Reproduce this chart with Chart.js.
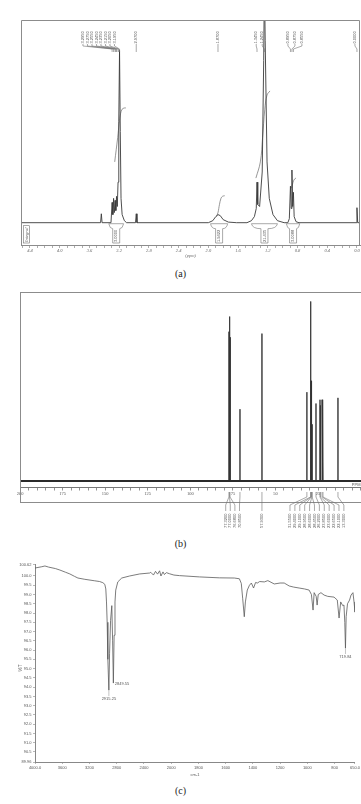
<!DOCTYPE html>
<html>
<head>
<meta charset="utf-8">
<script src="https://cdn.jsdelivr.net/npm/chart.js@4.4.0/dist/chart.umd.min.js"></script>
<style>
html, body { margin: 0; padding: 0; background: #fff; }
body { width: 361px; height: 804px; position: relative; overflow: hidden; }
canvas { position: absolute; left: 0; }
.cap { position: absolute; left: 0; width: 361px; text-align: center; font-family: "Liberation Serif", serif; font-size: 10px; color: #222; line-height: 12px; }
</style>
</head>
<body>
<canvas id="nmrH" width="361" height="262" style="top:0px"></canvas>
<div class="cap" style="top:268px">(a)</div>
<canvas id="nmrC" width="361" height="250" style="top:285px"></canvas>
<div class="cap" style="top:538px">(b)</div>
<canvas id="ir" width="361" height="230" style="top:555px"></canvas>
<div class="cap" style="top:785px">(c)</div>
<script>
// ---- (a) 1H NMR spectrum, ppm / relative intensity
var hPpm = [4.52, 3.45, 3.44, 3.43,
    3.31, 3.295, 3.285, 3.275, 3.265, 3.255, 3.245, 3.235, 3.225, 3.215, 3.205, 3.195, 3.185, 3.175, 3.16, 3.13, 3.10,
    2.98, 2.97, 2.96,
    2.00, 1.94, 1.90, 1.87, 1.84, 1.80, 1.73, 1.62,
    1.48, 1.42, 1.38, 1.355, 1.345, 1.335, 1.31, 1.275, 1.255, 1.245, 1.235, 1.21, 1.18, 1.13, 1.07, 0.98,
    0.93, 0.91, 0.895, 0.885, 0.875, 0.865, 0.855, 0.845, 0.82, 0.78,
    0.01, 0.0, -0.01, -0.041];
var hInt = [0, 0, 0.044, 0,
    0, 0.10, 0.04, 0.12, 0.05, 0.11, 0.06, 0.13, 0.08, 0.20, 0.50, 0.85, 0.45, 0.12, 0.04, 0.01, 0,
    0, 0.044, 0,
    0, 0.01, 0.03, 0.04, 0.035, 0.015, 0.003, 0,
    0, 0.01, 0.03, 0.07, 0.20, 0.09, 0.08, 0.25, 0.80, 1.20, 0.90, 0.30, 0.12, 0.04, 0.01, 0,
    0, 0.02, 0.18, 0.07, 0.26, 0.08, 0.15, 0.03, 0.005, 0,
    0, 0.074, 0, 0];

// integral traces
var hIntegPpm = [
    [3.26, 3.22, 3.20, 3.18, 3.16, 3.13, 3.11],
    [1.89, 1.87, 1.85, 1.83, 1.81, 1.78],
    [1.36, 1.30, 1.27, 1.24, 1.21, 1.17],
    [0.88, 0.86, 0.84, 0.82]
];
var hIntegVal = [
    [0.30, 0.42, 0.49, 0.54, 0.56, 0.566, 0.566],
    [0.03, 0.05, 0.09, 0.12, 0.13, 0.133],
    [0.22, 0.30, 0.42, 0.56, 0.63, 0.65],
    [0.17, 0.20, 0.215, 0.22]
];
var hIntegRanges = [[3.34, 3.14], [1.97, 1.74], [1.42, 1.07], [0.95, 0.77]];
var hIntegText = ["3.0000", "1.9422", "21.435", "3.0088"];

// labelled peaks, grouped as on the plot
var hPeakGroups = [
    [3.295, 3.275, 3.255, 3.245, 3.235, 3.215, 3.205, 3.195],
    [2.97],
    [1.87],
    [1.345, 1.245],
    [0.895, 0.875, 0.855],
    [0.0]
];
var hMajorTicks = [4.4, 4.0, 3.6, 3.2, 2.8, 2.4, 2.0, 1.6, 1.2, 0.8, 0.4, 0.0];

// ---- (b) 13C NMR peaks
var cPpm = [77.32, 77.00, 76.68, 70.85, 57.93, 31.55, 29.40, 29.10, 28.95, 28.60, 28.45, 26.20, 23.85, 23.60, 22.65, 22.10, 13.30];
var cInt = [0.79, 0.87, 0.76, 0.38, 0.78, 0.47, 0.95, 0.53, 0.40, 0.36, 0.30, 0.41, 0.43, 0.40, 0.43, 0.42, 0.44];
var cPeakGroups = [[0, 1, 2, 3], [4], [5, 6, 7, 8, 9, 10, 11, 12, 13, 14, 15, 16]];
var cMajorTicks = [200, 175, 150, 125, 100, 75, 50, 25];

// ---- (c) IR spectrum, wavenumber (cm-1) / %T
var irWn = [4000, 3900, 3854, 3800, 3700, 3634, 3550, 3488, 3420, 3370, 3268, 3122, 3050, 3004, 2975,
    2960, 2950, 2940, 2930, 2915, 2905, 2890, 2872, 2860, 2849, 2838, 2825, 2814, 2784, 2726, 2610, 2462,
    2316, 2300, 2260, 2230, 2200, 2170, 2150, 2120, 2100, 2070, 2024, 1980, 1939, 1792, 1646, 1536, 1499,
    1485, 1475, 1463, 1455, 1441, 1425, 1411, 1395, 1380, 1367, 1350, 1316, 1290, 1243, 1200, 1170, 1133,
    1100, 1060, 1020, 987, 970, 958, 950, 935, 928, 920, 900, 877, 850, 804, 780, 767, 755, 740, 731,
    725, 720, 715, 705, 690, 679, 665, 657, 650];
var irT = [100.43, 100.50, 100.54, 100.48, 100.40, 100.32, 100.20, 100.11, 99.98, 99.89, 99.82, 99.74, 99.70, 99.64, 99.55,
    99.30, 98.60, 97.50, 95.50, 93.84, 95.80, 97.60, 98.40, 96.50, 94.22, 96.80, 98.60, 99.24, 99.68, 99.89, 100.00, 100.11,
    100.16, 100.20, 100.05, 100.25, 100.10, 100.28, 100.00, 100.22, 100.08, 100.18, 100.12, 100.05, 100.02, 99.95, 99.90, 99.89, 99.85,
    99.60, 98.80, 97.80, 98.60, 99.24, 99.50, 99.62, 99.35, 99.65, 99.62, 99.70, 99.68, 99.75, 99.57, 99.62, 99.62, 99.46,
    99.40, 99.35, 99.30, 99.24, 99.00, 98.16, 99.10, 98.90, 98.43, 99.00, 99.10, 98.97, 98.90, 98.86, 98.70, 97.73, 98.60, 98.40, 98.43,
    97.50, 96.11, 97.80, 98.50, 98.70, 98.97, 99.10, 98.60, 98.05];
var irPeakWn = [2915, 2849, 720];
var irPeakText = ["2915.25", "2849.55", "719.84"];
var irTickWn = [4000, 3600, 3200, 2800, 2400, 2000, 1800, 1600, 1400, 1200, 1000, 800, 650];
var irTickText = ["4000.0", "3600", "3200", "2800", "2400", "2000", "1800", "1600", "1400", "1200", "1000", "800", "650.0"];
var irYTicks = [100.62, 100.0, 99.5, 99.0, 98.5, 98.0, 97.5, 97.0, 96.5, 96.0, 95.5, 95.0, 94.5, 94.0, 93.5, 93.0, 92.5, 92.0, 91.5, 91.0, 90.5, 89.96];
var irYText = ["100.62", "100.0", "99.5", "99.0", "98.5", "98.0", "97.5", "97.0", "96.5", "96.0", "95.5", "95.0", "94.5", "94.0", "93.5", "93.0", "92.5", "92.0", "91.5", "91.0", "90.5", "89.96"];

Chart.defaults.animation = false;
Chart.defaults.devicePixelRatio = 1;

// instrument axis changes scale at 2000 cm-1
function irPos(w) {
    return w >= 2000 ? (4000 - w) / 2 : 1000 + (2000 - w);
}

function vText(ctx, text, x, y, size, align) {
    ctx.save();
    ctx.translate(x, y);
    ctx.rotate(-Math.PI / 2);
    ctx.font = size + 'px "Liberation Sans", sans-serif';
    ctx.textAlign = align || "left";
    ctx.textBaseline = "middle";
    ctx.fillText(text, 0, 0);
    ctx.restore();
}

function xyPoints(xs, ys) {
    return xs.map(function(x, i) { return { x: x, y: ys[i] }; });
}

// ---------- (a)
var hLabelLayout = [[4.5, -17.5], [0, 0], [0, 0], [6, -1.5], [7, 3], [0, -2]];

var hAnnot = {
    id: "hAnnot",
    afterDatasetsDraw: function(chart) {
        var ctx = chart.ctx, xs = chart.scales.x, ys = chart.scales.y, a = chart.chartArea;
        ctx.save();
        // frame
        ctx.strokeStyle = "#8c8c8c";
        ctx.lineWidth = 1;
        ctx.beginPath();
        ctx.moveTo(a.left + 0.5, a.bottom);
        ctx.lineTo(a.left + 0.5, a.top + 0.5);
        ctx.lineTo(a.right - 0.5, a.top + 0.5);
        ctx.lineTo(a.right - 0.5, a.bottom);
        ctx.stroke();

        // peak labels on top
        ctx.strokeStyle = "#707070";
        ctx.fillStyle = "#555";
        ctx.lineWidth = 0.6;
        hPeakGroups.forEach(function(g, gi) {
            var px = g.map(function(p) { return xs.getPixelForValue(p); });
            var mid = px.reduce(function(s, v) { return s + v; }, 0) / px.length;
            var step = hLabelLayout[gi][0], shift = hLabelLayout[gi][1];
            g.forEach(function(p, i) {
                var lx = mid + shift + (i - (g.length - 1) / 2) * step;
                ctx.beginPath();
                ctx.moveTo(lx, a.top + 24);
                ctx.lineTo(lx, a.top + 26);
                ctx.lineTo(px[i], a.top + 29);
                ctx.lineTo(px[i], a.top + 32);
                ctx.stroke();
                vText(ctx, p.toFixed(4), lx, a.top + 23.5, 4);
            });
        });

        // integration brackets
        var y0 = ys.getPixelForValue(0);
        hIntegRanges.forEach(function(r, i) {
            var x1 = xs.getPixelForValue(r[0]), x2 = xs.getPixelForValue(r[1]);
            var xc = (x1 + x2) / 2, bw = 3.5;
            ctx.beginPath();
            ctx.moveTo(x1, y0 + 1);
            ctx.lineTo(x2, y0 + 1);
            ctx.moveTo(x1, y0 + 1);
            ctx.quadraticCurveTo(x1 + 1, y0 + 6, xc - bw, y0 + 6);
            ctx.lineTo(xc - bw, a.bottom - 2);
            ctx.lineTo(xc + bw, a.bottom - 2);
            ctx.lineTo(xc + bw, y0 + 6);
            ctx.quadraticCurveTo(x2 - 1, y0 + 6, x2, y0 + 1);
            ctx.stroke();
            vText(ctx, hIntegText[i], xc, (y0 + 6 + a.bottom - 2) / 2, 4, "center");
        });
        ctx.strokeRect(a.left + 2.5, y0 + 3, 6, a.bottom - y0 - 5);
        ctx.save();
        ctx.translate(a.left + 5.5, (y0 + a.bottom) / 2 + 1);
        ctx.rotate(-Math.PI / 2);
        ctx.font = 'italic 4.5px "Liberation Serif", serif';
        ctx.textAlign = "center";
        ctx.textBaseline = "middle";
        ctx.fillText("Integral", 0, 0);
        ctx.restore();
        ctx.restore();
    }
};

var hDatasets = [{
    data: xyPoints(hPpm, hInt),
    borderColor: "#3a3a3a",
    borderWidth: 0.9,
    pointRadius: 0,
    tension: 0
}];
hIntegPpm.forEach(function(p, i) {
    hDatasets.push({
        data: xyPoints(p, hIntegVal[i]),
        borderColor: "#6a6a6a",
        borderWidth: 0.7,
        pointRadius: 0,
        tension: 0.4
    });
});

new Chart(document.getElementById("nmrH"), {
    type: "line",
    data: { datasets: hDatasets },
    options: {
        responsive: false,
        layout: { padding: { left: 21, right: 1, top: 20, bottom: 3 } },
        plugins: { legend: { display: false }, tooltip: { enabled: false } },
        scales: {
            x: {
                type: "linear",
                reverse: true,
                min: -0.041,
                max: 4.521,
                afterFit: function(s) { s.height = 14; },
                afterBuildTicks: function(s) {
                    var t = [];
                    for (var k = 0; k <= 45; k++) t.push({ value: k / 10 });
                    s.ticks = t;
                },
                ticks: {
                    autoSkip: false,
                    maxRotation: 0,
                    padding: 0,
                    color: "#666",
                    font: { family: "Liberation Serif", size: 4.5, style: "italic" },
                    callback: function(v) {
                        var hit = hMajorTicks.some(function(m) { return Math.abs(m - v) < 1e-6; });
                        return hit ? v.toFixed(1) : "";
                    }
                },
                grid: { drawOnChartArea: false, tickLength: 3, color: "#777", tickWidth: 0.6 },
                border: { display: true, color: "#8c8c8c", width: 1 },
                title: { display: true, text: "(ppm)", color: "#666", padding: 0, font: { family: "Liberation Serif", size: 4.5, style: "italic" } }
            },
            y: { display: false, min: -0.11, max: 1.0 }
        }
    },
    plugins: [hAnnot]
});

// ---------- (b)
var cLabelLayout = [[4.6, 0.5], [0, 0], [4.9, 0]];

var cAnnot = {
    id: "cAnnot",
    afterDraw: function(chart) {
        var ctx = chart.ctx, xs = chart.scales.x, a = chart.chartArea;
        ctx.save();
        ctx.strokeStyle = "#8c8c8c";
        ctx.lineWidth = 1;
        ctx.strokeRect(a.left + 0.5, a.top + 0.5, a.right - a.left, a.bottom - a.top + 15);
        ctx.fillStyle = "#555";
        ctx.font = '4px "Liberation Sans", sans-serif';
        ctx.textAlign = "right";
        ctx.fillText("PPM", a.right - 0.5, a.bottom - 1.5);

        ctx.strokeStyle = "#707070";
        ctx.lineWidth = 0.6;
        cPeakGroups.forEach(function(g, gi) {
            var px = g.map(function(k) { return xs.getPixelForValue(cPpm[k]); });
            var mid = px.reduce(function(s, v) { return s + v; }, 0) / px.length;
            var step = cLabelLayout[gi][0], shift = cLabelLayout[gi][1];
            g.forEach(function(k, i) {
                var lx = mid + shift + (i - (g.length - 1) / 2) * step;
                ctx.beginPath();
                ctx.moveTo(px[i], a.bottom + 5);
                ctx.lineTo(px[i], a.bottom + 10);
                ctx.lineTo(lx, a.bottom + 18);
                ctx.lineTo(lx, a.bottom + 24);
                ctx.stroke();
                vText(ctx, cPpm[k].toFixed(4), lx, a.bottom + 41, 4);
            });
        });
        ctx.restore();
    }
};

// stick spectrum from the peak list
var cLine = [{ x: 200, y: 0 }];
cPpm.forEach(function(p, i) {
    cLine.push({ x: p + 0.03, y: 0 }, { x: p, y: cInt[i] }, { x: p - 0.03, y: 0 });
});
cLine.push({ x: -0.23, y: 0 });

new Chart(document.getElementById("nmrC"), {
    type: "line",
    data: {
        datasets: [{
            data: [{ x: 200, y: 0 }, { x: -0.23, y: 0 }],
            borderColor: "#2a2a2a",
            borderWidth: 2.2,
            pointRadius: 0
        }, {
            data: cLine,
            borderColor: "#333",
            borderWidth: 0.9,
            pointRadius: 0,
            tension: 0
        }]
    },
    options: {
        responsive: false,
        layout: { padding: { left: 20, right: 0, top: 7, bottom: 0 } },
        plugins: { legend: { display: false }, tooltip: { enabled: false } },
        scales: {
            x: {
                type: "linear",
                reverse: true,
                min: -0.23,
                max: 200,
                afterFit: function(s) { s.height = 48; },
                afterBuildTicks: function(s) {
                    var t = [];
                    for (var k = 0; k <= 40; k++) t.push({ value: k * 5 });
                    s.ticks = t;
                },
                ticks: {
                    autoSkip: false,
                    maxRotation: 0,
                    padding: 1,
                    color: "#555",
                    font: { family: "Liberation Serif", size: 4.5 },
                    callback: function(v) {
                        return cMajorTicks.indexOf(v) >= 0 ? String(v) : "";
                    }
                },
                grid: { drawOnChartArea: false, tickLength: 3.5, color: "#666", tickWidth: 0.7 },
                border: { display: true, color: "#777", width: 1 }
            },
            y: { display: false, min: -0.0317, max: 1.0 }
        }
    },
    plugins: [cAnnot]
});

// ---------- (c)
var irAnnot = {
    id: "irAnnot",
    afterDraw: function(chart) {
        var ctx = chart.ctx, xs = chart.scales.x, ys = chart.scales.y;
        ctx.save();
        ctx.fillStyle = "#555";
        ctx.strokeStyle = "#888";
        ctx.lineWidth = 0.5;
        ctx.font = '4px "Liberation Sans", sans-serif';
        irPeakWn.forEach(function(w, i) {
            var x = xs.getPixelForValue(irPos(w));
            var y = ys.getPixelForValue(irT[irWn.indexOf(w)]);
            if (i === 1) {
                ctx.textAlign = "left";
                ctx.fillText(irPeakText[i], x + 1.5, y + 2);
            } else {
                ctx.beginPath();
                ctx.moveTo(x, y);
                ctx.lineTo(x, y + 6);
                ctx.stroke();
                ctx.textAlign = "center";
                ctx.fillText(irPeakText[i], x, y + 10);
            }
        });
        vText(ctx, "%T", 21, 113, 4.5, "center");
        ctx.restore();
    }
};

new Chart(document.getElementById("ir"), {
    type: "line",
    data: {
        datasets: [{
            data: irWn.map(function(w, i) { return { x: irPos(w), y: irT[i] }; }),
            borderColor: "#5a5a5a",
            borderWidth: 0.8,
            pointRadius: 0,
            tension: 0
        }]
    },
    options: {
        responsive: false,
        layout: { padding: { left: 0, right: 5, top: 9.5, bottom: 8 } },
        plugins: { legend: { display: false }, tooltip: { enabled: false } },
        scales: {
            x: {
                type: "linear",
                min: 0,
                max: irPos(650),
                afterFit: function(s) { s.height = 15; },
                afterBuildTicks: function(s) {
                    s.ticks = irTickWn.map(function(w) { return { value: irPos(w) }; });
                },
                ticks: {
                    autoSkip: false,
                    maxRotation: 0,
                    padding: 1,
                    color: "#555",
                    font: { family: "Liberation Sans", size: 4 },
                    callback: function(v, i) { return irTickText[i]; }
                },
                grid: { drawOnChartArea: false, tickLength: 2, color: "#888", tickWidth: 0.6 },
                border: { display: true, color: "#888", width: 1 },
                title: { display: true, text: "cm-1", color: "#555", padding: 0, font: { family: "Liberation Sans", size: 4 } }
            },
            y: {
                min: 89.96,
                max: 100.62,
                afterFit: function(s) { s.width = 35; },
                afterBuildTicks: function(s) {
                    s.ticks = irYTicks.map(function(v) { return { value: v }; });
                },
                ticks: {
                    autoSkip: false,
                    padding: 1.5,
                    color: "#555",
                    font: { family: "Liberation Sans", size: 4 },
                    callback: function(v, i) { return irYText[i]; }
                },
                grid: { drawOnChartArea: false, tickLength: 2, color: "#888", tickWidth: 0.6 },
                border: { display: true, color: "#888", width: 1 }
            }
        }
    },
    plugins: [irAnnot]
});
</script>
</body>
</html>
